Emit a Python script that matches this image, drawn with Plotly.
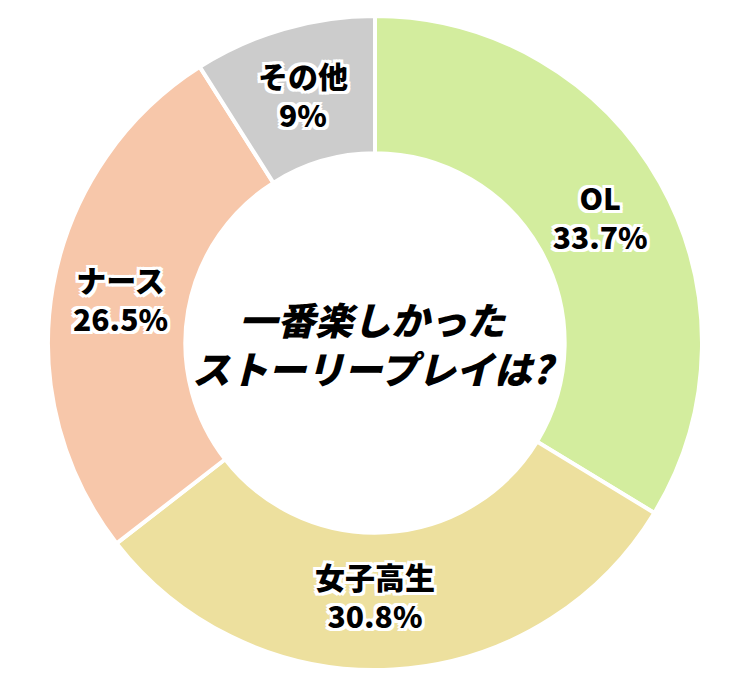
import plotly.graph_objects as go

labels = ["OL", "女子高生", "ナース", "その他"]
values = [33.7, 30.8, 26.5, 9]
colors = ["#d3ed9e", "#ede09e", "#f7c7aa", "#cccccc"]

title_text = "一番楽しかった<br>ストーリープレイは?"

heavy = "Noto Sans CJK JP Black, Noto Sans CJK JP, sans-serif"

# white outline around the slice labels
outline = ", ".join(
    f"{dx}px {dy}px 0 #fff" for dx in (-3, 0, 3) for dy in (-3, 0, 3) if dx or dy
)

fig = go.Figure(
    go.Pie(
        labels=labels,
        values=values,
        hole=0.58,
        sort=False,
        direction="clockwise",
        rotation=0,
        marker=dict(colors=colors, line=dict(color="white", width=4)),
        texttemplate="<b>%{label}<br>%{value}%</b>",
        textposition="inside",
        insidetextorientation="horizontal",
        textfont=dict(family=heavy, size=30, color="black",
                      weight=900, shadow=outline),
        hoverinfo="label+value",
        showlegend=False,
    )
)

fig.add_annotation(
    text="<b>" + title_text + "</b>",
    x=0.5, y=0.5, xref="paper", yref="paper",
    showarrow=False,
    font=dict(family=heavy, size=38, color="black",
              weight=900, style="italic"),
)

# page body adds 8px, so shift left/top margins back by that
fig.update_layout(
    width=750,
    height=688,
    margin=dict(l=40, r=56, t=8, b=26),
    uniformtext=dict(minsize=30, mode="show"),
    paper_bgcolor="white",
    plot_bgcolor="white",
)

fig.write_html("out.html")
